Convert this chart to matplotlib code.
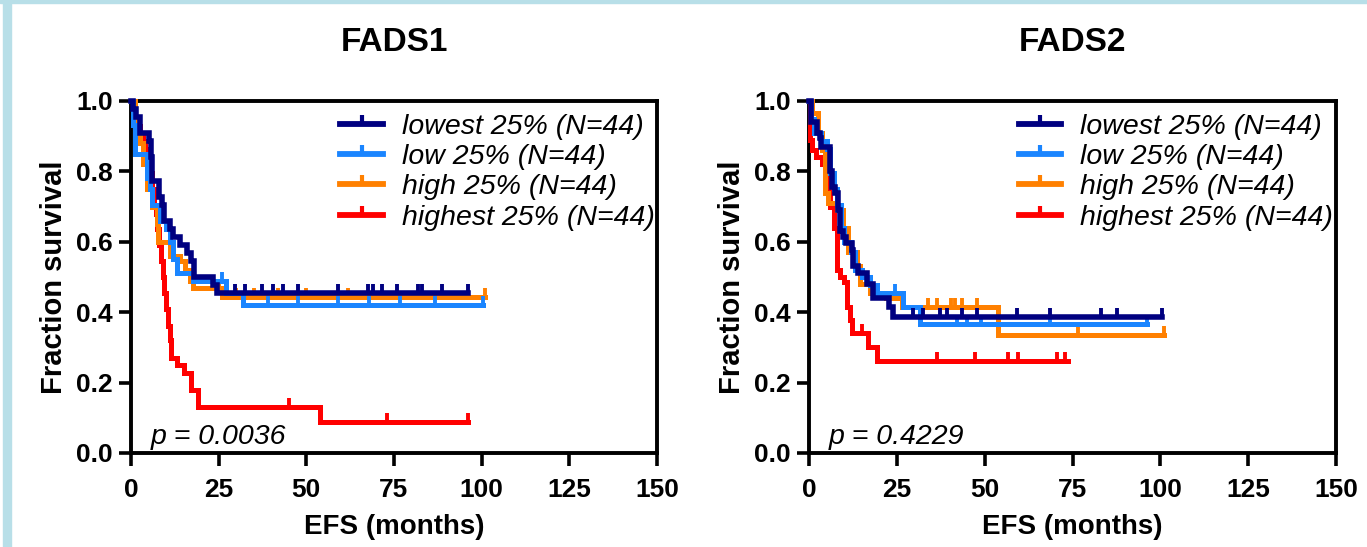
"""Kaplan-Meier EFS curves for FADS1 / FADS2 expression quartiles."""
import numpy as np
import matplotlib
matplotlib.use("Agg")
import matplotlib.pyplot as plt
from matplotlib.lines import Line2D
from matplotlib.patches import Rectangle

plt.rcParams["font.family"] = ["Liberation Sans", "DejaVu Sans"]

GROUPS = ["lowest 25% (N=44)", "low 25% (N=44)", "high 25% (N=44)", "highest 25% (N=44)"]
COLORS = ["#000080", "#1a85ff", "#ff8000", "#ff0000"]
PANELS = ["FADS1", "FADS2"]
PVALUES = ["p = 0.0036", "p = 0.4229"]
XTICKS = [0, 25, 50, 75, 100, 125, 150]
YTICKS = [0.0, 0.2, 0.4, 0.6, 0.8, 1.0]

# FADS1 -- step times / survival after step / last follow-up / censor times
f1_lowest_t = [0, 0.6, 1.5, 2.5, 5.0, 5.6, 6.0, 8.0, 8.8, 9.5, 11, 12, 14, 16, 17, 18, 23.5, 24.5]
f1_lowest_s = [1.0, 0.977, 0.955, 0.91, 0.886, 0.84, 0.773, 0.727, 0.705, 0.659, 0.636, 0.614, 0.591, 0.568, 0.545, 0.5, 0.477, 0.455]
f1_lowest_end = 96
f1_lowest_cens = [29.7, 32.5, 37.4, 40.5, 43.4, 47.6, 59, 67.6, 69, 71.6, 75.8, 81.8, 83, 88.7, 96]

f1_low_t = [0, 0.5, 1.0, 4.5, 5.3, 6.0, 8.2, 10, 11, 12, 13, 17.8, 27, 32]
f1_low_s = [1.0, 0.932, 0.85, 0.78, 0.75, 0.705, 0.66, 0.636, 0.60, 0.55, 0.51, 0.49, 0.455, 0.42]
f1_low_end = 100.4
f1_low_cens = [26, 39, 47.6, 59, 68, 76.7, 86.7, 100.4]

f1_high_t = [0, 1.0, 2.5, 3.5, 4.5, 6, 7.3, 7.8, 11, 14, 15.5, 16.8, 17.8, 26]
f1_high_s = [1.0, 0.91, 0.88, 0.82, 0.75, 0.70, 0.65, 0.60, 0.56, 0.545, 0.52, 0.49, 0.47, 0.443]
f1_high_end = 101
f1_high_cens = [25, 30, 35, 42, 50, 62, 101]

f1_highest_t = [0, 0.5, 1, 2, 2.5, 3.5, 4, 4.5, 5, 5.5, 6, 6.5, 7, 7.5, 8, 8.5, 9, 9.5, 10, 10.5, 11, 11.5, 13, 15, 17, 19, 54]
f1_highest_s = [1.0, 0.977, 0.955, 0.93, 0.91, 0.886, 0.864, 0.84, 0.82, 0.795, 0.75, 0.70, 0.68, 0.636, 0.59, 0.545, 0.50, 0.455, 0.41, 0.36, 0.32, 0.27, 0.25, 0.227, 0.18, 0.13, 0.088]
f1_highest_end = 96
f1_highest_cens = [45, 73, 96]

# FADS2
f2_lowest_t = [0, 0.6, 2.2, 3.0, 3.5, 6.0, 6.6, 7.4, 8.3, 8.8, 9.7, 10.5, 12.2, 12.6, 14, 16.6, 18.3, 22.7, 24]
f2_lowest_s = [1.0, 0.94, 0.91, 0.895, 0.87, 0.80, 0.755, 0.74, 0.69, 0.63, 0.614, 0.597, 0.577, 0.53, 0.51, 0.48, 0.44, 0.415, 0.385]
f2_lowest_end = 100.6
f2_lowest_cens = [29.7, 32.5, 37.3, 39.3, 43.6, 47.9, 59.3, 68.7, 83, 87.8, 100.6]

f2_low_t = [0, 0.5, 1.5, 3.5, 5.0, 6.0, 7.0, 8.0, 9.0, 10, 12, 13, 15, 17.5, 19.4, 26.8, 31.5]
f2_low_s = [1.0, 0.95, 0.91, 0.886, 0.864, 0.795, 0.75, 0.705, 0.64, 0.60, 0.57, 0.52, 0.50, 0.477, 0.455, 0.415, 0.367]
f2_low_end = 96.3
f2_low_cens = [24.5, 42, 45, 48.9, 68.7, 96.3]

f2_high_t = [0, 0.8, 2.5, 3.7, 4.6, 5.4, 7.9, 9.7, 11, 13.6, 14.5, 17.3, 22, 26.4, 53.8]
f2_high_s = [1.0, 0.966, 0.91, 0.86, 0.74, 0.71, 0.69, 0.64, 0.57, 0.53, 0.48, 0.455, 0.44, 0.415, 0.335]
f2_high_end = 101
f2_high_cens = [33.9, 36.5, 40.3, 41.6, 43.6, 47.9, 76.7, 101]

f2_highest_t = [0, 0.3, 0.9, 2.0, 3.7, 5.0, 6.0, 7.0, 8.0, 8.8, 10, 10.8, 11.7, 12.2, 16.8, 19.4]
f2_highest_s = [1.0, 0.89, 0.86, 0.84, 0.82, 0.75, 0.70, 0.64, 0.52, 0.50, 0.485, 0.415, 0.378, 0.34, 0.30, 0.262]
f2_highest_end = 73.8
f2_highest_cens = [15, 36.5, 47.3, 56.7, 59.6, 70.7, 73]

curves = {
    "FADS1": [
        (f1_lowest_t, f1_lowest_s, f1_lowest_end, f1_lowest_cens),
        (f1_low_t, f1_low_s, f1_low_end, f1_low_cens),
        (f1_high_t, f1_high_s, f1_high_end, f1_high_cens),
        (f1_highest_t, f1_highest_s, f1_highest_end, f1_highest_cens),
    ],
    "FADS2": [
        (f2_lowest_t, f2_lowest_s, f2_lowest_end, f2_lowest_cens),
        (f2_low_t, f2_low_s, f2_low_end, f2_low_cens),
        (f2_high_t, f2_high_s, f2_high_end, f2_high_cens),
        (f2_highest_t, f2_highest_s, f2_highest_end, f2_highest_cens),
    ],
}


def surv_at(t, s, x):
    idx = np.searchsorted(np.asarray(t), x, side="right") - 1
    return np.asarray(s)[idx]


def draw_panel(ax, name, pval):
    # red first so the low-expression groups sit on top
    for i in [3, 2, 1, 0]:
        t, s, end, cens = curves[name][i]
        tt = list(t) + [end]
        ss = list(s) + [s[-1]]
        lw = 4.0 if i == 0 else 3.6
        ax.step(tt, ss, where="post", color=COLORS[i], lw=lw, zorder=3 + (3 - i),
                solid_joinstyle="miter", clip_on=False)
        ax.plot(cens, surv_at(t, s, cens), ls="none", marker=2, ms=6.5, mew=2.8,
                color=COLORS[i], zorder=3 + (3 - i), clip_on=False)

    ax.set_xlim(0, 150)
    ax.set_ylim(0, 1.0)
    ax.set_xticks(XTICKS)
    ax.set_yticks(YTICKS)
    ax.set_yticklabels([f"{v:.1f}" for v in YTICKS], fontsize=19, fontweight="bold")
    ax.set_xticklabels([str(v) for v in XTICKS], fontsize=19, fontweight="bold")
    for sp in ax.spines.values():
        sp.set_linewidth(2.8)
    ax.tick_params(axis="both", length=9, width=2.6, pad=4)
    ax.tick_params(axis="x", pad=9)
    ax.set_xlabel("EFS (months)", fontsize=20, fontweight="bold", labelpad=9)
    ax.set_ylabel("Fraction survival", fontsize=21, fontweight="bold", labelpad=6)
    ax.set_title(name, fontsize=24, fontweight="bold", pad=36)
    ax.text(5.5, 0.025, pval, fontsize=20.5, style="italic", va="baseline")

    handles = [Line2D([0], [0], color=c, lw=4.2, marker=2, ms=6.5, mew=3) for c in COLORS]
    ax.legend(handles, GROUPS, loc="upper left", bbox_to_anchor=(0.36, 1.02), frameon=False,
              numpoints=1, handlelength=1.5, handletextpad=0.65, labelspacing=0.15,
              borderaxespad=0.3, prop={"size": 20.5, "style": "italic"})


def main():
    fig = plt.figure(figsize=(13.67, 5.47), dpi=100)
    fig.patches.append(Rectangle((3 / 1367, 0), 8 / 1367, 1, transform=fig.transFigure,
                                 color="#b8dfe8", zorder=0))
    fig.patches.append(Rectangle((0, 1 - 3 / 547), 1, 3 / 547, transform=fig.transFigure,
                                 color="#b8dfe8", zorder=0))
    ax1 = fig.add_axes([131 / 1367, 94 / 547, 526 / 1367, 352 / 547])
    ax2 = fig.add_axes([809 / 1367, 94 / 547, 527 / 1367, 352 / 547])
    for ax, name, pval in zip([ax1, ax2], PANELS, PVALUES):
        draw_panel(ax, name, pval)
    fig.savefig("out.png", dpi=100)


if __name__ == "__main__":
    main()
